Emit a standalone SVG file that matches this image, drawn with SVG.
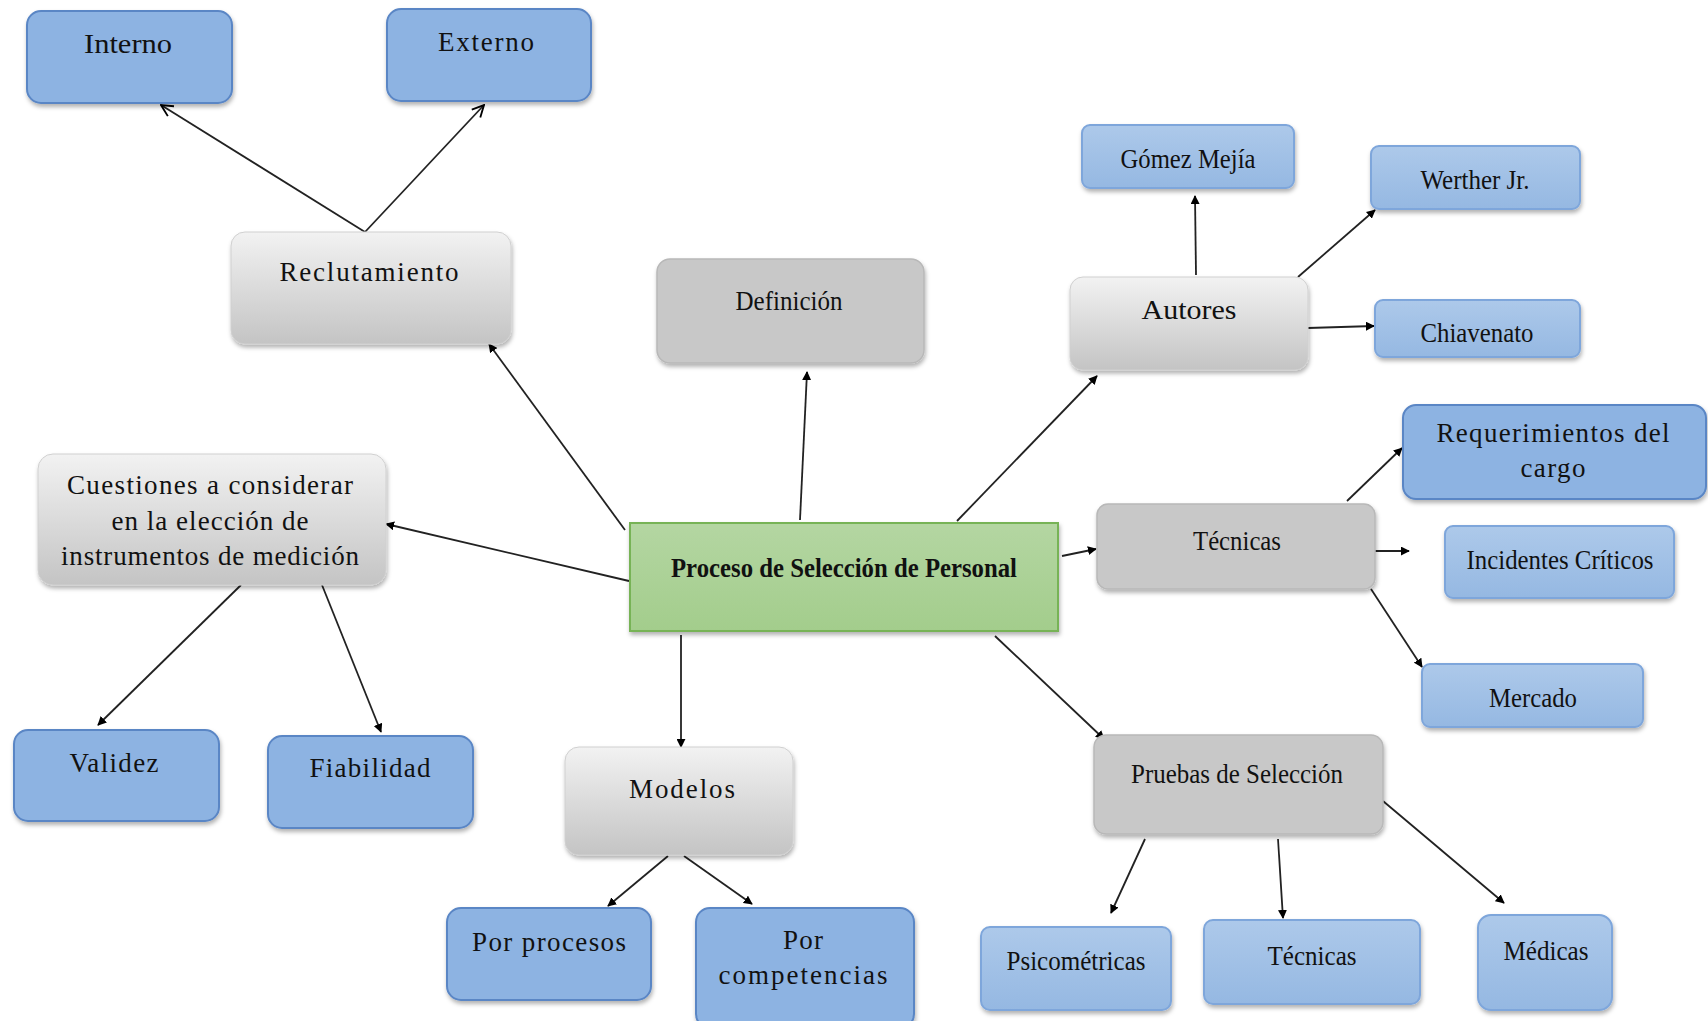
<svg xmlns="http://www.w3.org/2000/svg" width="1708" height="1021" viewBox="0 0 1708 1021">
<defs>
<linearGradient id="gLight" x1="0" y1="0" x2="0" y2="1"><stop offset="0" stop-color="#f2f2f2"/><stop offset="1" stop-color="#c4c4c4"/></linearGradient>
<linearGradient id="gBlue2" x1="0" y1="0" x2="0" y2="1"><stop offset="0" stop-color="#adc9ea"/><stop offset="1" stop-color="#95b8e2"/></linearGradient>
<linearGradient id="gGreen" x1="0" y1="0" x2="0" y2="1"><stop offset="0" stop-color="#b4d6a2"/><stop offset="1" stop-color="#a3cd8c"/></linearGradient>
<filter id="sh" x="-10%" y="-10%" width="120%" height="130%"><feDropShadow dx="1" dy="3" stdDeviation="2" flood-color="#000" flood-opacity="0.3"/></filter>
<marker id="af" viewBox="0 0 10 10" refX="9" refY="5" markerWidth="9" markerHeight="9" markerUnits="userSpaceOnUse" orient="auto"><path d="M0,0 L10,5 L0,10 z" fill="#000"/></marker>
<marker id="ao" viewBox="0 0 12 12" refX="11" refY="6" markerWidth="14" markerHeight="14" markerUnits="userSpaceOnUse" orient="auto"><path d="M1,1 L11,6 L1,11" fill="none" stroke="#000" stroke-width="1.6"/></marker>
</defs>
<style>
.b1{fill:#8db3e2;stroke:#5a86c5;stroke-width:2}
.b2{fill:url(#gBlue2);stroke:#7ea6db;stroke-width:2}
.gr{fill:#c8c8c8;stroke:#b8b8b8;stroke-width:1.5}
.lt{fill:url(#gLight);stroke:#d0d0d0;stroke-width:1}
.gn{fill:url(#gGreen);stroke:#77b356;stroke-width:2}
text{font-family:"Liberation Serif","Times New Roman",serif;font-size:27px;fill:#111;text-anchor:middle}
.c{stroke:#222;stroke-width:1.8;fill:none}
</style>
<rect width="1708" height="1021" fill="#fff"/>
<g id="connectors">
<line class="c" x1="365" y1="232" x2="161" y2="105" marker-end="url(#ao)"/>
<line class="c" x1="365" y1="232" x2="484" y2="105" marker-end="url(#ao)"/>
<line class="c" x1="625" y1="530" x2="489" y2="344" marker-end="url(#af)"/>
<line class="c" x1="800" y1="520" x2="807" y2="372" marker-end="url(#af)"/>
<line class="c" x1="957" y1="521" x2="1097" y2="376" marker-end="url(#af)"/>
<line class="c" x1="1196" y1="275" x2="1195" y2="196" marker-end="url(#af)"/>
<line class="c" x1="1298" y1="277" x2="1375" y2="210" marker-end="url(#af)"/>
<line class="c" x1="1308" y1="328" x2="1374" y2="326" stroke-width="2.5" marker-end="url(#af)"/>
<line class="c" x1="1062" y1="556" x2="1096" y2="549" stroke-width="2.5" marker-end="url(#af)"/>
<line class="c" x1="1347" y1="501" x2="1402" y2="448" marker-end="url(#af)"/>
<line class="c" x1="1375" y1="551" x2="1409" y2="551" stroke-width="2.5" marker-end="url(#af)"/>
<line class="c" x1="1371" y1="589" x2="1422" y2="667" marker-end="url(#af)"/>
<line class="c" x1="995" y1="636" x2="1104" y2="739" marker-end="url(#af)"/>
<line class="c" x1="681" y1="635" x2="681" y2="747" marker-end="url(#af)"/>
<line class="c" x1="629" y1="581" x2="386" y2="524" marker-end="url(#af)"/>
<line class="c" x1="241" y1="585" x2="98" y2="725" marker-end="url(#af)"/>
<line class="c" x1="322" y1="585" x2="381" y2="732" marker-end="url(#af)"/>
<line class="c" x1="668" y1="856" x2="608" y2="906" marker-end="url(#af)"/>
<line class="c" x1="684" y1="856" x2="752" y2="904" marker-end="url(#af)"/>
<line class="c" x1="1145" y1="839" x2="1111" y2="913" marker-end="url(#af)"/>
<line class="c" x1="1278" y1="839" x2="1283" y2="918" marker-end="url(#af)"/>
<line class="c" x1="1383" y1="801" x2="1504" y2="903" marker-end="url(#af)"/>
</g>
<g id="interno"><rect class="b1" x="27" y="11" width="205" height="92" rx="14" filter="url(#sh)"/><text x="128" y="53" textLength="88" lengthAdjust="spacingAndGlyphs">Interno</text></g>
<g id="externo"><rect class="b1" x="387" y="9" width="204" height="92" rx="14" filter="url(#sh)"/><text x="486" y="51" textLength="96">Externo</text></g>
<g id="reclutamiento"><rect class="lt" x="231" y="232" width="280" height="112" rx="14" filter="url(#sh)"/><text x="369" y="281" textLength="179">Reclutamiento</text></g>
<g id="definicion"><rect class="gr" x="657" y="259" width="267" height="104" rx="13" filter="url(#sh)"/><text x="789" y="310" textLength="107" lengthAdjust="spacingAndGlyphs">Definición</text></g>
<g id="autores"><rect class="lt" x="1070" y="277" width="238" height="93" rx="13" filter="url(#sh)"/><text x="1189" y="319" textLength="95" lengthAdjust="spacingAndGlyphs">Autores</text></g>
<g id="gomez"><rect class="b2" x="1082" y="125" width="212" height="63" rx="8" filter="url(#sh)"/><text x="1188" y="168" textLength="135" lengthAdjust="spacingAndGlyphs">Gómez Mejía</text></g>
<g id="werther"><rect class="b2" x="1371" y="146" width="209" height="63" rx="8" filter="url(#sh)"/><text x="1475" y="189" textLength="109" lengthAdjust="spacingAndGlyphs">Werther Jr.</text></g>
<g id="chiavenato"><rect class="b2" x="1375" y="300" width="205" height="57" rx="8" filter="url(#sh)"/><text x="1477" y="342" textLength="113" lengthAdjust="spacingAndGlyphs">Chiavenato</text></g>
<g id="requerimientos"><rect class="b1" x="1403" y="405" width="303" height="94" rx="13" filter="url(#sh)"/><text x="1553" y="442" textLength="233">Requerimientos del</text><text x="1553" y="477" textLength="65">cargo</text></g>
<g id="tecnicas"><rect class="gr" x="1097" y="504" width="278" height="85" rx="11" filter="url(#sh)"/><text x="1237" y="550" textLength="88" lengthAdjust="spacingAndGlyphs">Técnicas</text></g>
<g id="incidentes"><rect class="b2" x="1445" y="526" width="229" height="72" rx="8" filter="url(#sh)"/><text x="1560" y="569" textLength="187" lengthAdjust="spacingAndGlyphs">Incidentes Críticos</text></g>
<g id="mercado"><rect class="b2" x="1422" y="664" width="221" height="63" rx="8" filter="url(#sh)"/><text x="1533" y="707" textLength="88" lengthAdjust="spacingAndGlyphs">Mercado</text></g>
<g id="proceso"><rect class="gn" x="630" y="523" width="428" height="108" filter="url(#sh)"/><text x="844" y="577" font-weight="bold" textLength="346" lengthAdjust="spacingAndGlyphs">Proceso de Selección de Personal</text></g>
<g id="cuestiones"><rect class="lt" x="38" y="454" width="348" height="131" rx="15" filter="url(#sh)"/><text x="210" y="494" textLength="286">Cuestiones a considerar</text><text x="210" y="530" textLength="197">en la elección de</text><text x="210" y="565" textLength="298">instrumentos de medición</text></g>
<g id="validez"><rect class="b1" x="14" y="730" width="205" height="91" rx="14" filter="url(#sh)"/><text x="114" y="772" textLength="89">Validez</text></g>
<g id="fiabilidad"><rect class="b1" x="268" y="736" width="205" height="92" rx="14" filter="url(#sh)"/><text x="370" y="777" textLength="121">Fiabilidad</text></g>
<g id="modelos"><rect class="lt" x="565" y="747" width="228" height="108" rx="14" filter="url(#sh)"/><text x="682" y="798" textLength="106">Modelos</text></g>
<g id="porprocesos"><rect class="b1" x="447" y="908" width="204" height="92" rx="14" filter="url(#sh)"/><text x="549" y="951" textLength="154">Por procesos</text></g>
<g id="porcompetencias"><rect class="b1" x="696" y="908" width="218" height="120" rx="14" filter="url(#sh)"/><text x="803" y="949" textLength="40">Por</text><text x="803" y="984" textLength="169">competencias</text></g>
<g id="pruebas"><rect class="gr" x="1094" y="735" width="289" height="99" rx="12" filter="url(#sh)"/><text x="1237" y="783" textLength="212" lengthAdjust="spacingAndGlyphs">Pruebas de Selección</text></g>
<g id="psicometricas"><rect class="b2" x="981" y="927" width="190" height="83" rx="9" filter="url(#sh)"/><text x="1076" y="970" textLength="139" lengthAdjust="spacingAndGlyphs">Psicométricas</text></g>
<g id="tecnicas2"><rect class="b2" x="1204" y="920" width="216" height="84" rx="9" filter="url(#sh)"/><text x="1312" y="965" textLength="89" lengthAdjust="spacingAndGlyphs">Técnicas</text></g>
<g id="medicas"><rect class="b2" x="1478" y="915" width="134" height="95" rx="13" filter="url(#sh)"/><text x="1546" y="960" textLength="85" lengthAdjust="spacingAndGlyphs">Médicas</text></g>
</svg>
